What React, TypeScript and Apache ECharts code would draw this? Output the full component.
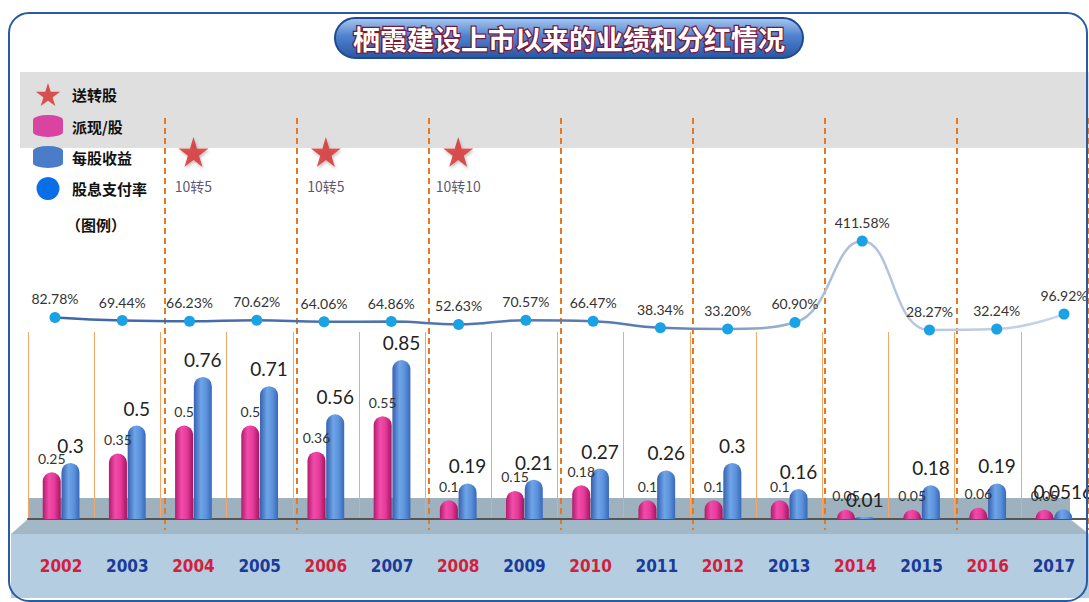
import React, { useEffect, useRef } from "react";
import * as echarts from "echarts";

const years = ["2002", "2003", "2004", "2005", "2006", "2007", "2008", "2009", "2010", "2011", "2012", "2013", "2014", "2015", "2016", "2017"];
const cashDividend = [0.25, 0.35, 0.5, 0.5, 0.36, 0.55, 0.1, 0.15, 0.18, 0.1, 0.1, 0.1, 0.05, 0.05, 0.06, 0.05];
const eps = [0.3, 0.5, 0.76, 0.71, 0.56, 0.85, 0.19, 0.21, 0.27, 0.26, 0.3, 0.16, 0.01, 0.18, 0.19, 0.0516];
const payoutRatio = [82.78, 69.44, 66.23, 70.62, 64.06, 64.86, 52.63, 70.57, 66.47, 38.34, 33.2, 60.9, 411.58, 28.27, 32.24, 96.92];
const splitYears = ["2004", "2006", "2008"];
const splitLabels = ["10转5", "10转5", "10转10"];

const STAR = "path://M50,0 L61,35 L98,35 L68,57 L79,91 L50,70 L21,91 L32,57 L2,35 L39,35 Z";
const CYL = "path://M0,5 A15,5 0 0 1 30,5 L30,17 A15,5 0 0 1 0,17 Z";

const FONT = "Lato, 'Noto Sans', 'Noto Sans CJK SC', sans-serif";
const CJK = "'Noto Sans CJK SC', sans-serif";

const pinkGrad = new echarts.graphic.LinearGradient(0, 0, 1, 0, [
  { offset: 0, color: "#b01c6c" },
  { offset: 0.35, color: "#f24caa" },
  { offset: 0.65, color: "#e63b9b" },
  { offset: 1, color: "#a3155e" },
]);
const blueGrad = new echarts.graphic.LinearGradient(0, 0, 1, 0, [
  { offset: 0, color: "#3760ae" },
  { offset: 0.4, color: "#6ea5e8" },
  { offset: 0.7, color: "#5a91da" },
  { offset: 1, color: "#3868bb" },
]);
const lineGrad = new echarts.graphic.LinearGradient(0, 0, 1, 0, [
  { offset: 0, color: "#3e66a6" },
  { offset: 0.6, color: "#5b7db3" },
  { offset: 0.75, color: "#a9bcd8" },
  { offset: 1, color: "#c9d5e8" },
]);

export default function App() {
  const ref = useRef<HTMLDivElement>(null);
  useEffect(() => {
    if (!ref.current) return;
    const chart = echarts.init(ref.current, null, { renderer: "svg" });
    const option: any = {
      animation: false,
      backgroundColor: "#ffffff",
      legend: {
        orient: "vertical",
        left: 28,
        top: 78,
        itemWidth: 30,
        itemHeight: 23,
        itemGap: 9,
        textStyle: { fontFamily: CJK, fontSize: 15, fontWeight: "bold", color: "#111", padding: [4, 0, 0, 4] },
        data: [
          { name: "送转股", icon: STAR, itemStyle: { color: "#d42b2b" } },
          { name: "派现/股", icon: CYL, itemStyle: { color: "#d8449f" } },
          { name: "每股收益", icon: CYL, itemStyle: { color: "#4a7cc8" } },
          { name: "股息支付率", icon: "circle", itemStyle: { color: "#0a6ee6" } },
        ],
      },
      graphic: [
        { type: "rect", z: -10, shape: { x: 20, y: 72, width: 1069, height: 76 }, style: { fill: "#dfdfdf" } },
        { type: "rect", z: -10, shape: { x: 28, y: 498, width: 1042, height: 21 }, style: { fill: "#9db1be" } },
        { type: "polygon", z: -10, shape: { points: [[28, 519], [1070, 519], [1089, 534], [11, 534]] }, style: { fill: "#a3b8c7" } },
        { type: "rect", z: -10, shape: { x: 11, y: 534, width: 1078, height: 64 }, style: { fill: "#b4cde1" } },
        { type: "rect", z: 20, shape: { x: 9, y: 13, width: 1078, height: 588, r: 20 }, style: { fill: "none", stroke: "#2b5ca3", lineWidth: 2 } },
        {
          type: "rect", z: 20,
          shape: { x: 335, y: 18, width: 468, height: 40, r: 20 },
          style: {
            fill: new echarts.graphic.LinearGradient(0, 0, 0, 1, [
              { offset: 0, color: "#a9c8f0" },
              { offset: 0.45, color: "#4f82cf" },
              { offset: 1, color: "#2a56a3" },
            ]),
            stroke: "#1f4a90",
            lineWidth: 2,
          },
        },
        {
          type: "text", z: 21, x: 569, y: 38,
          style: {
            text: "栖霞建设上市以来的业绩和分红情况",
            fontFamily: CJK, fontSize: 27, fontWeight: "bold",
            fill: "#ffffff", stroke: "#7a1838", lineWidth: 2.5,
            align: "center", verticalAlign: "middle",
          },
        },
        {
          type: "text", z: 5, x: 66, y: 224,
          style: { text: "（图例）", fontFamily: CJK, fontSize: 15, fontWeight: "bold", fill: "#111", align: "left", verticalAlign: "middle" },
        },
      ],
      grid: [
        { left: 28, top: 332, width: 1059, height: 187 },
        { left: 55, top: 232.2, width: 1009, height: 104.4 },
        { left: 33, top: 118, width: 1059, height: 412 },
        { left: 28, top: 137, width: 1059, height: 30 },
      ],
      xAxis: [
        {
          type: "category", gridIndex: 0, data: years, boundaryGap: true,
          axisLine: { lineStyle: { color: "#555", width: 2 } },
          axisTick: { show: false },
          axisLabel: {
            margin: 38, fontSize: 17, fontWeight: "bold",
            fontFamily: "'Liberation Sans Narrow', 'DejaVu Sans Condensed', sans-serif",
            color: (v: string, i: number) => (i % 2 === 0 ? "#d21f3c" : "#1b3a99"),
          },
          splitLine: { show: true, interval: 0, lineStyle: { color: "#f5a76a", width: 1 } },
        },
        { type: "category", gridIndex: 1, data: years, boundaryGap: false, show: false },
        {
          type: "category", gridIndex: 2, data: years, boundaryGap: true,
          axisLine: { show: false }, axisTick: { show: false }, axisLabel: { show: false },
          splitLine: {
            show: true,
            interval: (i: number) => i > 0 && i < years.length && i % 2 === 0,
            lineStyle: { color: "#e8781e", width: 2, type: [6, 4] },
          },
        },
        { type: "category", gridIndex: 3, data: years, boundaryGap: true, show: false },
      ],
      yAxis: [
        { type: "value", gridIndex: 0, min: 0, max: 1, show: false },
        { type: "value", gridIndex: 1, min: 0, max: 450, show: false },
        { type: "value", gridIndex: 2, min: 0, max: 1, show: false },
        { type: "value", gridIndex: 3, min: 0, max: 2, show: false },
      ],
      series: [
        {
          name: "送转股", type: "scatter", xAxisIndex: 3, yAxisIndex: 3,
          symbol: STAR, symbolSize: 30,
          itemStyle: { color: "#d42b2b", shadowColor: "rgba(0,0,0,0.3)", shadowBlur: 3, shadowOffsetX: 1, shadowOffsetY: 2 },
          data: splitYears.map((y, i) => ({ value: [y, 1], name: splitLabels[i] })),
          label: {
            show: true, position: "bottom", distance: 12,
            formatter: (p: any) => p.name,
            fontFamily: CJK, fontSize: 14, color: "#2e2a50",
          },
        },
        {
          name: "派现/股", type: "bar", xAxisIndex: 0, yAxisIndex: 0,
          barWidth: 18, barGap: "4%",
          itemStyle: { color: pinkGrad, borderRadius: [9, 9, 0, 0] },
          label: { show: true, position: "top", distance: 7, fontFamily: FONT, fontSize: 14, color: "#333", formatter: (p: any) => String(p.value) },
          data: cashDividend,
        },
        {
          name: "每股收益", type: "bar", xAxisIndex: 0, yAxisIndex: 0,
          barWidth: 18, barGap: "4%",
          itemStyle: { color: blueGrad, borderRadius: [9, 9, 0, 0] },
          label: { show: true, position: "top", distance: 8, fontFamily: FONT, fontSize: 19, color: "#222", formatter: (p: any) => String(p.value) },
          data: eps,
        },
        {
          name: "股息支付率", type: "line", xAxisIndex: 1, yAxisIndex: 1,
          smooth: 0.45, symbol: "circle", symbolSize: 11,
          lineStyle: { color: lineGrad, width: 2.5 },
          itemStyle: { color: "#1aa2e4" },
          label: {
            show: true, position: "top", distance: 6,
            fontFamily: FONT, fontSize: 14, color: "#333",
            formatter: (p: any) => p.value.toFixed(2) + "%",
          },
          data: payoutRatio,
        },
      ],
    };
    chart.setOption(option);
    return () => chart.dispose();
  }, []);
  return <div ref={ref} style={{ position: "absolute", left: 0, top: 0, width: 1089, height: 602 }} />;
}
